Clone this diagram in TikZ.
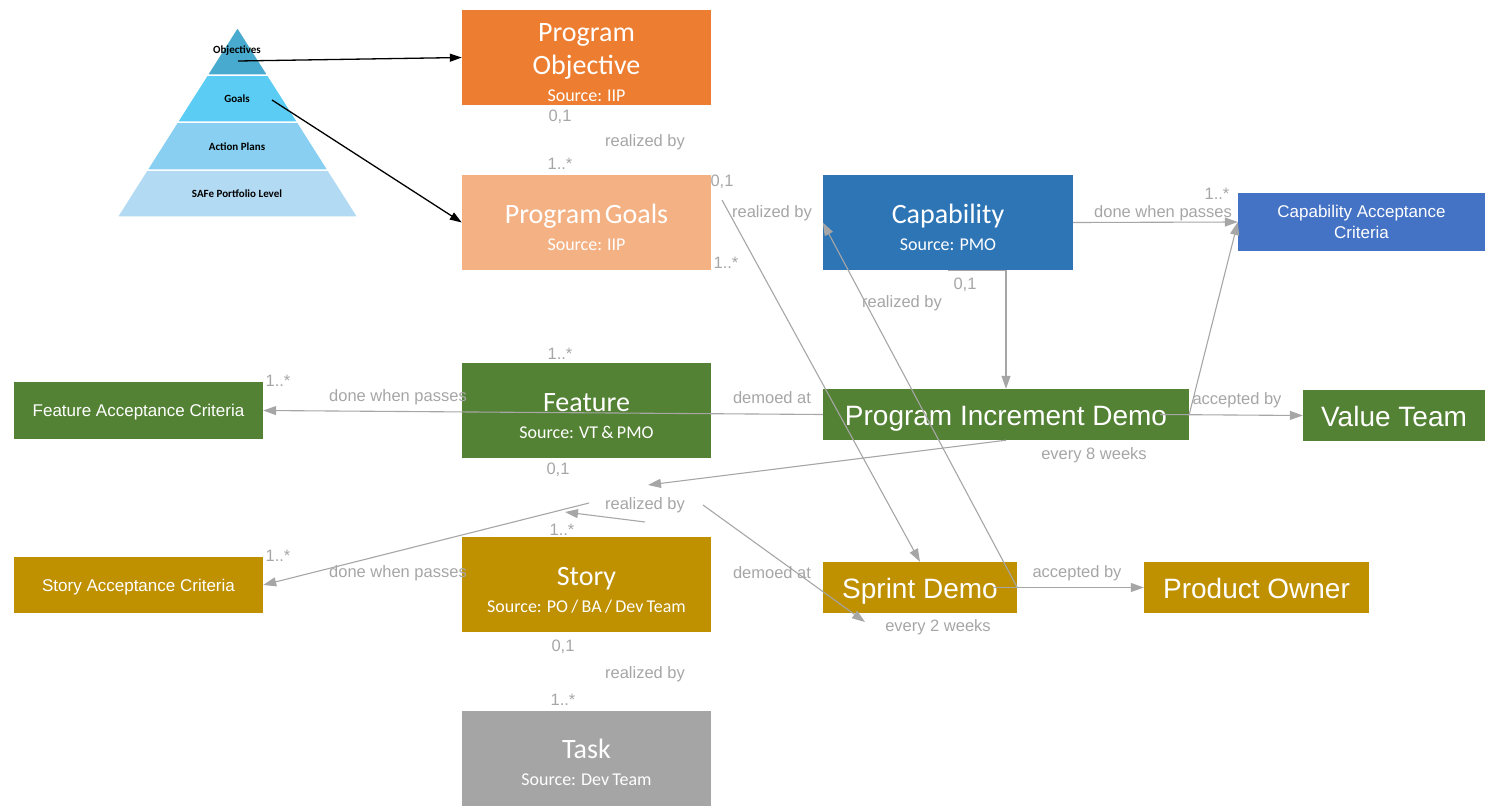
\documentclass[tikz,border=0pt]{standalone}
\usepackage{fontspec}
\setmainfont{Liberation Sans}
\newfontfamily\calibri{Carlito}
\usetikzlibrary{arrows.meta}

\definecolor{objorange}{HTML}{ED7D31}
\definecolor{goalorange}{HTML}{F4B183}
\definecolor{capblue}{HTML}{2E75B6}
\definecolor{critblue}{HTML}{4472C4}
\definecolor{featgreen}{HTML}{548235}
\definecolor{storygold}{HTML}{BF9000}
\definecolor{taskgray}{HTML}{A5A5A5}
\definecolor{linegray}{HTML}{A6A6A6}
\definecolor{pyrobj}{HTML}{48AACF}
\definecolor{pyrgoal}{HTML}{5BCDF5}
\definecolor{pyract}{HTML}{88CFF1}
\definecolor{pyrsafe}{HTML}{B3DAF3}

% title and source line of a box
\newcommand{\boxlabel}[2]{\parindent=0pt{\fontsize{28}{33}\selectfont\rule{0pt}{29pt}#1\par}{\fontsize{18}{27}\selectfont #2\par}}

\begin{document}
\begin{tikzpicture}[x=1pt, y=-1pt,
  box/.style={rectangle, inner sep=0pt, text=white, align=center},
  itembox/.style={box, minimum width=249pt, minimum height=95pt, text width=240pt, font=\calibri},
  demobox/.style={box, minimum height=51pt, text height=21pt, text depth=0pt, font=\fontsize{28}{30}\selectfont},
  critbox/.style={box, minimum width=249pt, minimum height=57pt, text depth=0pt, font=\fontsize{17}{21}\selectfont},
  pyrtext/.style={font=\calibri\bfseries\fontsize{11}{13}\selectfont, inner sep=0pt},
  band/.style={draw=white, line width=1.5pt},
  lbl/.style={text=linegray, font=\fontsize{16.5}{18}\selectfont, inner sep=0pt},
  link/.style={draw=linegray, line width=1.1pt, -{Triangle[length=13pt,width=9pt]}},
  goalarrow/.style={draw=black, line width=1.3pt, -{Triangle[length=12pt,width=8pt]}}]

  \useasboundingbox (0,0) rectangle (1485,806);

  % pyramid
  \fill[band, fill=pyrsafe] (117,217) -- (358,217) -- (328.2,170) -- (146.8,170) -- cycle;
  \fill[band, fill=pyract] (146.8,170) -- (328.2,170) -- (297.8,122) -- (177.2,122) -- cycle;
  \fill[band, fill=pyrgoal] (177.2,122) -- (297.8,122) -- (267.9,75) -- (207.1,75) -- cycle;
  \fill[band, fill=pyrobj] (207.1,75) -- (267.9,75) -- (237.5,27) -- cycle;
  \node[pyrtext] (pobj) at (237,51) {Objectives};
  \node[pyrtext] (pgoal) at (237,99) {Goals};
  \node[pyrtext] (pact) at (237,147) {Action Plans};
  \node[pyrtext] (psafe) at (237,194) {SAFe Portfolio Level};
  \coordinate (objdot) at (238,61);
  \coordinate (goaldot) at (272,100);

  % boxes
  \node[itembox, fill=objorange] (obj) at (586.5,57.5) {\boxlabel{Program\\Objective}{Source: IIP}};
  \node[itembox, fill=goalorange] (goals) at (586.5,222.5) {\boxlabel{Program Goals}{Source: IIP}};
  \node[itembox, fill=featgreen] (feat) at (586.5,410.5) {\boxlabel{Feature}{Source: VT \& PMO}};
  \node[itembox, fill=storygold] (story) at (586.5,584.5) {\boxlabel{Story}{Source: PO / BA / Dev Team}};
  \node[itembox, fill=taskgray] (task) at (586.5,758) {\boxlabel{Task}{Source: Dev Team}};
  \node[itembox, fill=capblue, minimum width=250pt] (cap) at (948,222.5) {\boxlabel{Capability}{Source: PMO}};
  \node[critbox, fill=critblue, minimum width=247pt, minimum height=58pt] (cac) at (1361.5,222) {Capability Acceptance\\Criteria};
  \node[critbox, fill=featgreen] (fac) at (138.5,410.5) {Feature Acceptance Criteria};
  \node[critbox, fill=storygold, minimum height=56pt] (sac) at (138.5,585) {Story Acceptance Criteria};
  \node[demobox, fill=featgreen, minimum width=366pt] (pid) at (1006,414.5) {Program Increment Demo};
  \node[demobox, fill=featgreen, minimum width=182pt] (vt) at (1394,415.5) {Value Team};
  \node[demobox, fill=storygold, minimum width=194pt] (sd) at (920,587.5) {Sprint Demo};
  \node[demobox, fill=storygold, minimum width=225pt] (po) at (1256.5,587.5) {Product Owner};

  % loose connector ends
  \coordinate (goalstail) at (722,200);
  \coordinate (feattip) at (648,485);
  \coordinate (storytail) at (645,522);
  \coordinate (storytip) at (565,512);
  \coordinate (sactail) at (589,503);
  \coordinate (sdtail) at (703,505);
  \coordinate (sdtip) at (865,622);

  \draw[goalarrow] (objdot) -- (obj.west);
  \draw[goalarrow] (goaldot) -- (goals.west);

  \draw[link] (pid.west) -- (fac.east);
  \draw[link] (cap.east) -- (cac.west);
  \draw[link] (pid.east) -- (cac.west);
  \draw[link] ([xshift=-29pt]pid.east) -- (vt.west);
  \draw[link] (cap.south) -| (pid.north);
  \draw[link] (sd.east) -- (cap.west);
  \draw[link] ([xshift=-24pt]sd.east) -- (po.west);
  \draw[link] (goalstail) -- (sd.north);
  \draw[link] (pid.south) -- (feattip);
  \draw[link] (storytail) -- (storytip);
  \draw[link] (sactail) -- (sac.east);
  \draw[link] (sdtail) -- (sdtip);

  % multiplicities and roles
  \foreach \x/\y/\t [count=\i] in {560/117/{0,1}, 645/142/realized by, 560/164/1..*,
      722/182/{0,1}, 772/213/realized by, 726/263/1..*,
      1163/213/done when passes, 1217/194/1..*, 965/285/{0,1}, 902/303/realized by,
      560/354/1..*, 278/381/1..*, 398/397/done when passes, 772/398/demoed at,
      1237/400/accepted by, 1094/455/every 8 weeks, 558/470/{0,1}, 645/505/realized by,
      562/530/1..*, 278/556/1..*, 398/573/done when passes, 772/573/demoed at,
      1077/573/accepted by, 938/627/every 2 weeks, 563/647/{0,1}, 645/674/realized by,
      563/700/1..*}
    \node[lbl] (lbl\i) at (\x,\y) {\t};
\end{tikzpicture}
\end{document}
